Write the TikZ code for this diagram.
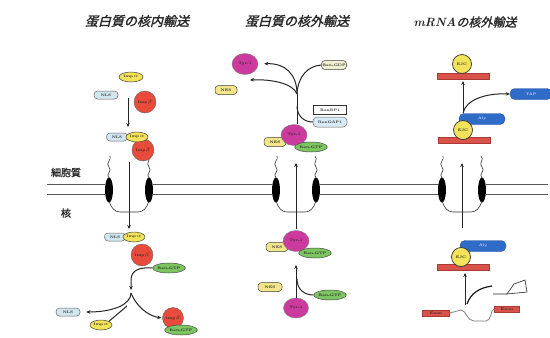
\documentclass[tikz,border=0pt]{standalone}
\usepackage{fontspec}
\newfontfamily\jpt{Noto Sans CJK JP}[FakeSlant=0.25,FakeBold=1.5]
\newfontfamily\jpl{Noto Sans CJK JP}[FakeBold=1]
\usetikzlibrary{shapes.geometric,arrows.meta}
\definecolor{yelF}{HTML}{F3E35A}
\definecolor{redF}{HTML}{E84A3C}
\definecolor{nlsF}{HTML}{D2E6F0}
\definecolor{grnF}{HTML}{7CC560}
\definecolor{magF}{HTML}{CC3A9E}
\definecolor{nesF}{HTML}{F2E58A}
\definecolor{gdpF}{HTML}{F1F0D2}
\definecolor{gapF}{HTML}{D8EAF5}
\definecolor{bluF}{HTML}{2F6CC8}
\definecolor{bluD}{HTML}{1F4F9A}
\definecolor{barF}{HTML}{D9534A}
\definecolor{barD}{HTML}{A83A33}
\tikzset{
 lbl/.style={font=\fontsize{3.6}{4}\selectfont\bfseries, text=black!85, inner sep=0pt},
 impa/.style={lbl, ellipse, draw=black!75, line width=0.5pt, fill=yelF, minimum width=24pt, minimum height=10pt},
 nls/.style={lbl, rectangle, rounded corners=3.5pt, draw=black!60, line width=0.5pt, fill=nlsF, minimum width=24pt, minimum height=8pt},
 impb/.style={lbl, circle, draw=black!60, line width=0.4pt, fill=redF, minimum size=22pt},
 rgtp/.style={lbl, ellipse, draw=black!70, line width=0.5pt, fill=grnF, minimum width=26pt, minimum height=10pt},
 mag/.style={lbl, ellipse, draw=black!50, line width=0.4pt, fill=magF, minimum width=26pt, minimum height=21pt},
 nes/.style={lbl, rectangle, rounded corners=3.5pt, draw=black!75, line width=0.5pt, fill=nesF, minimum width=22pt, minimum height=9pt},
 rgdp/.style={nes, fill=gdpF, minimum width=25pt},
 rbp/.style={lbl, rectangle, draw=black!80, fill=white, line width=0.5pt, minimum width=33pt, minimum height=9pt},
 gapbox/.style={lbl, rectangle, rounded corners=4pt, draw=black!60, line width=0.5pt, fill=gapF, minimum width=34pt, minimum height=10pt},
 ejc/.style={lbl, circle, draw=black!80, line width=0.7pt, fill=yelF, minimum size=19pt},
 bar/.style={rectangle, draw=barD, line width=0.4pt, fill=barF, minimum width=52pt, minimum height=6pt, inner sep=0pt},
 blu/.style={lbl, text=white!85!blue, rectangle, rounded corners=5pt, fill=bluF, draw=bluD, line width=0.4pt, minimum width=46pt, minimum height=11pt},
 exon/.style={lbl, rectangle, draw=barD, line width=0.4pt, fill=barF, minimum width=27pt, minimum height=6pt},
 arr/.style={draw=black!85, line width=1pt, -{Stealth[length=4pt,width=3.5pt]}},
 ln/.style={draw=black!85, line width=1pt},
 memb/.style={draw=black!65, line width=0.8pt},
 wavy/.style={draw=black!80, line width=0.6pt},
 ttl/.style={font=\jpt\fontsize{13}{14}\selectfont, text=black!85, inner sep=0pt},
 side/.style={font=\jpl\fontsize{10}{11}\selectfont, text=black!85, inner sep=0pt}
}
\begin{document}
\begin{tikzpicture}[x=1pt,y=-1pt]
\fill[white] (0,0) rectangle (550,338);
\useasboundingbox (0,0) rectangle (550,338);

% titles
\node[ttl] (t1) at (137,21) {蛋白質の核内輸送};
\node[ttl] (t2) at (297,21) {蛋白質の核外輸送};
\node[ttl, font=\jpt\fontsize{12}{13}\selectfont] (t3) at (465,22) {{\rmfamily\bfseries\itshape mRNA}の核外輸送};

% membrane
\foreach \y in {184,194} {
 \draw[memb] (47,\y) -- (105,\y);
 \draw[memb] (153,\y) -- (272,\y);
 \draw[memb] (320,\y) -- (439,\y);
 \draw[memb] (486,\y) -- (548,\y);
}
\node[side] (cyt) at (66,172.5) {細胞質};
\node[side] (nuc) at (66,213) {核};

% pores
\foreach \c in {129,296,462} {
 \fill[black] (\c-20,190) ellipse [x radius=4pt, y radius=12.5pt];
 \fill[black] (\c+20,190) ellipse [x radius=4pt, y radius=12.5pt];
 \draw[wavy] (\c-20,178) .. controls (\c-24,174) and (\c-16,171) .. (\c-20,167) .. controls (\c-24,163) and (\c-17,160) .. (\c-19,156);
 \draw[wavy] (\c+20,178) .. controls (\c+16,174) and (\c+24,171) .. (\c+20,167) .. controls (\c+16,163) and (\c+23,160) .. (\c+19,156);
 \draw[wavy] (\c-20,201) .. controls (\c-18,208) and (\c-14,212) .. (\c-9,212) -- (\c+9,212) .. controls (\c+14,212) and (\c+18,208) .. (\c+20,201);
}

% ---------- column 1: import ----------
\node[nls] (nls1) at (106,95) {NLS};
\node[impb] (ib1) at (145,102) {Imp\,$\beta$};
\node[impa] (ia1) at (131,77) {Imp\,$\alpha$};
\coordinate (a1s) at (128,98);
\coordinate (a1e) at (128,127);
\draw[arr] (a1s) -- (a1e);
\node[impb] (ib2) at (143,150) {Imp\,$\beta$};
\node[nls, minimum width=21pt] (nls2) at (117,137) {NLS};
\node[impa, minimum width=22pt] (ia2) at (137,137) {Imp\,$\alpha$};
\coordinate (p1t) at (129,162);
\coordinate (p1b) at (129,229);
\draw[arr] (p1t) -- (p1b);

\node[impb] (ib3) at (142,255) {Imp\,$\beta$};
\node[nls, minimum width=21pt] (nls3) at (115,237) {NLS};
\node[impa, minimum width=22pt] (ia3) at (134,237) {Imp\,$\alpha$};
\node[rgtp] (rg1) at (169,268) {Ran-GTP};
\coordinate (j1a) at (131,290);
\coordinate (j1) at (131,293);
\coordinate (j1c) at (127,306);
\draw[arr] (rg1.west) .. controls (140,267) and (131,270) .. (131,280) -- (j1a);
\node[nls] (nls4) at (68,312) {NLS};
\node[impa, minimum width=22pt] (ia4) at (101,325) {Imp\,$\alpha$};
\node[impb, minimum size=21pt] (ib4) at (173,318) {Imp\,$\beta$};
\node[rgtp] (rg4) at (181,330) {Ran-GTP};
\draw[arr, shorten >=6pt] (j1) .. controls (131,305) and (112,312) .. (nls4.east);
\draw[ln] (j1c) -- (ia4.north east);
\draw[arr, shorten >=1pt] (j1) .. controls (136,306) and (148,316) .. (ib4.west);

% ---------- column 2: export ----------
\node[mag] (ty1) at (245,64) {Tyr-1};
\node[rgdp] (gdp) at (334,65) {Ran-GDP};
\node[nes] (nes1) at (226,90) {NES};
\node[rbp] (rbp) at (330,110) {RanBP1};
\node[gapbox] (gap) at (330,122) {RanGAP1};
\node[nes] (nes2) at (275,142) {NES};
\node[mag] (ty2) at (294,135) {Tyr-1};
\node[rgtp, minimum width=31pt] (rg2) at (311,147) {Ran-GTP};
\coordinate (j2) at (297,94);
\coordinate (c2t) at (297,124);
\coordinate (n1t) at (250,80);
\draw[ln] (c2t) -- (j2);
\draw[ln] (gap.west) .. controls (304,122) and (297,116) .. (297,106);
\draw[arr, shorten >=6pt] (j2) .. controls (297,74) and (285,63) .. (ty1.east);
\draw[arr] (j2) .. controls (293,83) and (270,79) .. (n1t);
\draw[ln] (j2) .. controls (298,76) and (308,66) .. (gdp.west);

\coordinate (p2b) at (296,229);
\coordinate (p2t) at (296,163);
\draw[arr] (p2b) -- (p2t);
\node[nes] (nes3) at (277,247) {NES};
\node[mag] (ty3) at (296,241) {Tyr-1};
\node[rgtp, minimum width=32pt] (rg3) at (315,253) {Ran-GTP};
\node[nes, minimum width=24pt] (nes4) at (270,287) {NES};
\node[rgtp] (rg5) at (330,295) {Ran-GTP};
\node[mag, minimum width=25pt, minimum height=20pt] (ty4) at (296,308) {Tyr-1};
\coordinate (a2e) at (296,265);
\draw[arr] (ty4.north) -- (a2e);
\draw[ln] (rg5.west) .. controls (305,295) and (297,290) .. (297,279);

% ---------- column 3: mRNA export ----------
\node[bar] (bar1) at (463,76) {};
\node[ejc] (ejc1) at (462,64) {EJC};
\node[blu, minimum width=42pt] (tap) at (531,94) {TAP};
\node[blu] (aly1) at (482,119) {Aly};
\node[bar] (bar2) at (464,140) {};
\node[ejc] (ejc2) at (463,130) {EJC};
\coordinate (a3s) at (463,113);
\coordinate (a3e) at (463,81);
\draw[arr] (a3s) -- (a3e);
\draw[arr] (a3s) .. controls (466,100) and (485,93) .. (tap.west);

\coordinate (p3b) at (462,228);
\coordinate (p3t) at (462,163);
\draw[arr] (p3b) -- (p3t);
\node[blu] (aly2) at (483,246) {Aly};
\node[bar] (bar3) at (463,267) {};
\node[ejc] (ejc3) at (461,257) {EJC};
\coordinate (a4s) at (465,305);
\coordinate (a4e) at (465,273);
\draw[arr] (a4s) -- (a4e);
\coordinate (i1) at (467,304);
\coordinate (i2) at (492,286);
\draw[draw=black!90, line width=1.2pt] (i1) .. controls (471,293) and (479,288) .. (i2);
\draw[draw=black!85, line width=0.6pt] (493,294) -- (507,294) -- (514,284) -- (525,280) -- (527,292) -- (507,294);
\node[exon] (ex1) at (436,313) {Exon};
\node[exon, minimum width=25pt] (ex2) at (507,309) {Exon};
\draw[draw=black!50, line width=0.8pt] (ex1.east) -- (461,310) .. controls (466,310) and (467,321) .. (474,321) -- (486,321) .. controls (492,321) and (490,309) .. (ex2.west);
\end{tikzpicture}
\end{document}
